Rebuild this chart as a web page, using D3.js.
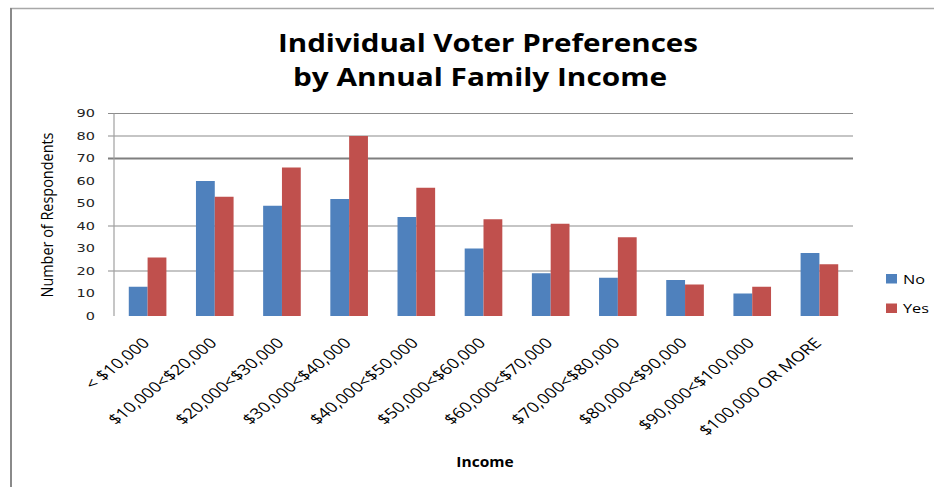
<!DOCTYPE html>
<html>
<head>
<meta charset="utf-8">
<script src="https://cdn.jsdelivr.net/npm/d3@7"></script>
<style>
  html, body { margin: 0; padding: 0; background: #fff; }
  svg { display: block; }
</style>
</head>
<body>
<svg id="chart" width="934" height="487"></svg>
<script>
// ---- data ----
const categories = ["< $10,000", "$10,000<$20,000", "$20,000<$30,000", "$30,000<$40,000",
  "$40,000<$50,000", "$50,000<$60,000", "$60,000<$70,000", "$70,000<$80,000",
  "$80,000<$90,000", "$90,000<$100,000", "$100,000 OR MORE"];
const seriesNames = ["No", "Yes"];
const noValues  = [13, 60, 49, 52, 44, 30, 19, 17, 16, 10, 28];
const yesValues = [26, 53, 66, 80, 57, 43, 41, 35, 14, 13, 23];
const yTickValues = [0, 10, 20, 30, 40, 50, 60, 70, 80, 90];
const gridValues = [20, 40, 70, 80, 90];
const titleLines = ["Individual Voter Preferences", "by Annual Family Income"];
const yAxisTitle = "Number of Respondents";
const xAxisTitle = "Income";
const colors = { No: "#4F81BD", Yes: "#C0504D" };

// ---- layout ----
const svg = d3.select("#chart");
const plot = { left: 114, right: 853, top: 113.5, bottom: 316 };
const SX = 1.25;

const x = d3.scaleBand().domain(categories).range([plot.left, plot.right]).padding(0);
const xSub = d3.scaleBand().domain(seriesNames)
  .range([x.step() * 0.22, x.step() * 0.78]).padding(0);
const y = d3.scaleLinear().domain([0, 90]).range([plot.bottom, plot.top]);

// border
svg.append("line").attr("x1", 10).attr("x2", 934).attr("y1", 8.5).attr("y2", 8.5)
  .attr("stroke", "#a8a8a8").attr("stroke-width", 1.5);
svg.append("line").attr("x1", 11).attr("x2", 11).attr("y1", 8).attr("y2", 487)
  .attr("stroke", "#8a8a8a").attr("stroke-width", 2);

// title
svg.selectAll("text.title").data(titleLines).join("text")
  .attr("class", "title")
  .attr("x", (d, i) => i === 0 ? 488 : 480)
  .attr("y", (d, i) => i === 0 ? 52 : 86)
  .attr("text-anchor", "middle")
  .attr("font-family", "'Open Sans', sans-serif")
  .attr("font-weight", "bold")
  .attr("font-size", 25)
  .attr("textLength", (d, i) => i === 0 ? 420 : 374)
  .attr("lengthAdjust", "spacingAndGlyphs")
  .attr("fill", "#000")
  .text(d => d);

// gridlines
svg.append("g").selectAll("line").data(gridValues).join("line")
  .attr("x1", plot.left - 6).attr("x2", plot.right)
  .attr("y1", d => y(d)).attr("y2", d => y(d))
  .attr("stroke", d => d === 70 ? "#7f7f7f" : "#8c8c8c")
  .attr("stroke-width", d => d === 70 ? 2.2 : 1.2);

// y axis line
svg.append("line").attr("x1", plot.left).attr("x2", plot.left)
  .attr("y1", plot.top).attr("y2", plot.bottom)
  .attr("stroke", "#a0a0a0").attr("stroke-width", 1.2);

// y tick labels
svg.append("g").selectAll("text").data(yTickValues).join("text")
  .attr("transform", d => `translate(95,${y(d)}) scale(1.45,1)`)
  .attr("text-anchor", "end")
  .attr("dy", "0.36em")
  .attr("font-family", "'DejaVu Sans', Verdana, sans-serif")
  .attr("font-size", 10)
  .attr("fill", "#222")
  .text(d => d);

// bars
const rows = categories.map((c, i) => ({ cat: c, No: noValues[i], Yes: yesValues[i] }));
const groups = svg.append("g").selectAll("g").data(rows).join("g")
  .attr("transform", d => `translate(${x(d.cat)},0)`);
groups.selectAll("rect").data(d => seriesNames.map(k => ({ key: k, value: d[k] }))).join("rect")
  .attr("x", d => xSub(d.key))
  .attr("width", xSub.bandwidth())
  .attr("y", d => y(d.value))
  .attr("height", d => y(0) - y(d.value))
  .attr("fill", d => colors[d.key]);

// x labels
svg.append("g").selectAll("text").data(categories).join("text")
  .attr("transform", d => `translate(${x(d) + x.bandwidth() / 2 + 3},344) scale(${SX},1) rotate(-45)`)
  .attr("text-anchor", "end")
  .attr("font-family", "'Open Sans', sans-serif")
  .attr("font-size", 14.5)
  .attr("fill", "#000")
  .text(d => d);

// y axis title
svg.append("text")
  .attr("transform", `translate(53,215) scale(1.2,1) rotate(-90)`)
  .attr("text-anchor", "middle")
  .attr("font-family", "'Open Sans', sans-serif")
  .attr("font-size", 13.5)
  .attr("textLength", 165)
  .attr("lengthAdjust", "spacingAndGlyphs")
  .attr("fill", "#000")
  .text(yAxisTitle);

// x axis title
svg.append("text")
  .attr("transform", `translate(485,467) scale(1.15,1)`)
  .attr("text-anchor", "middle")
  .attr("font-family", "'Open Sans', sans-serif")
  .attr("font-weight", "bold")
  .attr("font-size", 13.5)
  .attr("fill", "#000")
  .text(xAxisTitle);

// legend
const legend = svg.append("g").selectAll("g").data(seriesNames).join("g")
  .attr("transform", (d, i) => `translate(886,${274 + i * 29.5})`);
legend.append("rect").attr("width", 11).attr("height", 9.5)
  .attr("fill", d => colors[d]);
legend.append("text")
  .attr("transform", `translate(17,9.5) scale(${SX},1)`)
  .attr("font-family", "'Open Sans', sans-serif")
  .attr("font-size", 13)
  .attr("fill", "#000")
  .text(d => d);
</script>
</body>
</html>
